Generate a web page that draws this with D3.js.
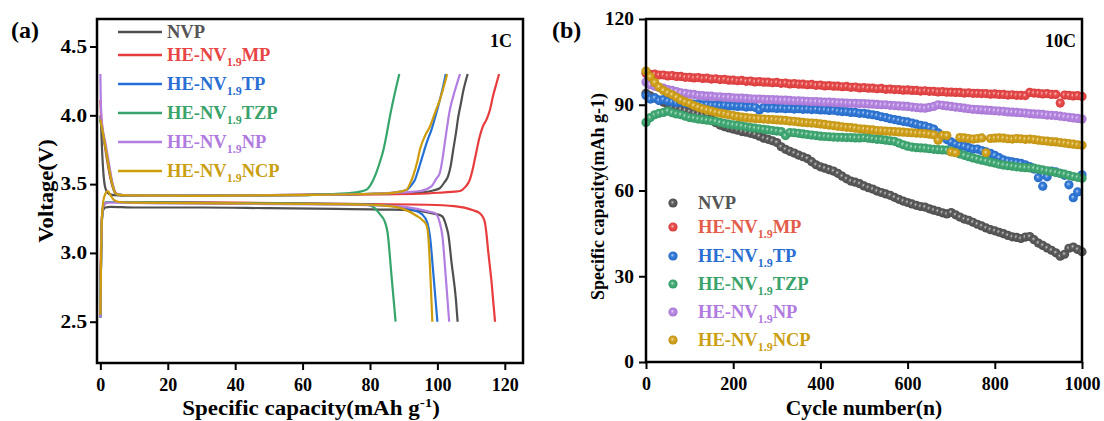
<!DOCTYPE html>
<html><head><meta charset="utf-8">
<script src="https://cdn.jsdelivr.net/npm/d3@7"></script>
<style>
body{margin:0;background:#fff}
svg{display:block}
text{font-family:"Liberation Serif","Times New Roman",serif;font-weight:bold}
</style>
</head><body>
<svg id="chart" width="1104" height="421"></svg>
<script>
// ---------- categories / legend ----------
const seriesKeys = ["NVP","MP","TP","TZP","NP","NCP"];
const legendPrefix = ["NVP","HE-NV","HE-NV","HE-NV","HE-NV","HE-NV"];
const legendSub = ["","1.9","1.9","1.9","1.9","1.9"];
const legendSuffix = ["","MP","TP","TZP","NP","NCP"];
const lineColors = ["#4f4f4f","#e83c3c","#2370d6","#35a56b","#b27ee2","#cf9c0c"];
const legendTextColors = ["#555555","#e84545","#2a6fd2","#3aa36a","#b07ce0","#caa012"];
const legendTextColorsB = ["#555555","#e35d4a","#2a6fd2","#3aa36a","#b07ce0","#caa012"];

// ---------- panel (a): voltage profiles [capacity, voltage] ----------
const nvpCharge = [[0,4.00],[0.2,3.93],[0.5,3.75],[0.9,3.58],[1.5,3.47],[2.5,3.43],[4,3.42],[10,3.415],[30,3.415],[50,3.42],[70,3.425],[85,3.43],[92,3.435],[96,3.44],[99,3.455],[100.7,3.47],[102,3.51],[103.2,3.56],[104,3.64],[104.7,3.75],[105.5,3.87],[106.2,3.99],[107,4.09],[107.7,4.18],[108.4,4.25],[109,4.3]];
const nvpDischarge = [[0,2.53],[0.15,2.85],[0.3,3.1],[0.5,3.25],[0.8,3.31],[1.5,3.33],[3,3.335],[10,3.33],[30,3.33],[50,3.325],[70,3.32],[85,3.315],[92,3.31],[96,3.30],[99,3.285],[101.2,3.27],[102.2,3.23],[102.8,3.18],[103.2,3.14],[104.2,2.93],[105.5,2.66],[106,2.5]];
const mpCharge = [[0,4.11],[0.2,4.0],[0.6,3.9],[1.5,3.75],[2.5,3.6],[3.5,3.49],[4.5,3.43],[6,3.42],[20,3.415],[50,3.42],[80,3.425],[95,3.43],[102,3.44],[105,3.445],[106.7,3.45],[108.3,3.48],[109.6,3.53],[110.4,3.6],[111.1,3.68],[112.6,3.85],[113.5,3.92],[114.6,3.97],[115.6,4.04],[116.5,4.14],[117.5,4.23],[118.3,4.3]];
const mpDischarge = [[0,2.8],[0.2,3.05],[0.45,3.25],[0.8,3.33],[1.5,3.36],[3,3.37],[10,3.37],[40,3.365],[80,3.355],[97,3.35],[105,3.34],[110.6,3.31],[112.5,3.29],[113.5,3.26],[114.1,3.22],[114.6,3.13],[115,3.03],[116.1,2.78],[117.1,2.5]];
const tpCharge = [[0,3.97],[1,3.84],[2,3.7],[3,3.56],[4,3.46],[5,3.425],[8,3.418],[30,3.415],[60,3.42],[80,3.43],[86,3.435],[89,3.445],[91,3.46],[92.5,3.5],[93.3,3.53],[94.3,3.6],[95.3,3.68],[96.8,3.8],[98.3,3.9],[99.5,4.0],[100.7,4.11],[101.7,4.21],[102.5,4.3]];
const tpDischarge = [[0,2.53],[0.15,2.85],[0.35,3.15],[0.6,3.3],[1,3.35],[2,3.37],[4,3.37],[20,3.365],[50,3.36],[75,3.355],[85,3.345],[90,3.33],[93,3.31],[95.5,3.28],[97,3.22],[97.8,3.12],[98.8,2.85],[100,2.5]];
const tzpCharge = [[0,3.97],[1,3.84],[2,3.7],[3,3.56],[4,3.46],[5,3.425],[8,3.418],[30,3.415],[60,3.42],[70,3.43],[74,3.435],[77,3.445],[79,3.46],[80.3,3.5],[81.5,3.56],[82.8,3.65],[84,3.75],[85,3.87],[85.9,3.99],[87,4.12],[88.7,4.3]];
const tzpDischarge = [[0,2.53],[0.15,2.85],[0.35,3.15],[0.6,3.3],[1,3.35],[2,3.37],[4,3.37],[20,3.365],[50,3.36],[70,3.355],[78,3.35],[80,3.345],[82,3.31],[83,3.28],[84.5,3.22],[85.2,3.15],[86.4,2.83],[87.6,2.5]];
const npCharge = [[0,4.3],[0.1,4.15],[0.25,4.02],[0.6,3.92],[1.5,3.8],[2.5,3.66],[3.5,3.52],[4.5,3.44],[5.5,3.425],[8,3.418],[30,3.415],[60,3.42],[80,3.43],[90,3.44],[95,3.45],[98.3,3.485],[99.7,3.54],[100.7,3.58],[101.5,3.68],[102.2,3.8],[103.7,4.04],[105.2,4.18],[106.7,4.3]];
const npDischarge = [[0,2.53],[0.15,2.85],[0.35,3.15],[0.6,3.3],[1,3.35],[2,3.365],[4,3.365],[20,3.36],[50,3.355],[75,3.35],[88,3.34],[94,3.32],[97.5,3.30],[99.3,3.29],[100.7,3.22],[101.5,3.12],[102.5,2.82],[103.5,2.5]];
const ncpCharge = [[0,3.97],[1,3.84],[2,3.7],[3,3.56],[4,3.46],[5,3.425],[8,3.418],[30,3.415],[60,3.42],[80,3.43],[86,3.435],[89,3.445],[90.9,3.46],[92,3.51],[92.8,3.56],[94,3.66],[94.8,3.75],[96.3,3.85],[97.8,3.92],[99.3,4.02],[100.7,4.11],[101.8,4.2],[102.9,4.3]];
const ncpDischarge = [[0,2.55],[0.2,2.95],[0.45,3.25],[0.9,3.38],[1.5,3.43],[2.2,3.45],[3,3.42],[4,3.385],[5.5,3.37],[10,3.365],[40,3.36],[70,3.355],[80,3.35],[86,3.34],[89.8,3.32],[93.8,3.27],[95.5,3.24],[96.8,3.2],[97.3,3.12],[97.9,2.85],[98.5,2.5]];

const xTicksA = [0,20,40,60,80,100,120];
const yTicksA = [2.5,3.0,3.5,4.0,4.5];

// ---------- panel (b): capacity every 10 cycles (0..1000) ----------
const cycleStep = 10;
const capNVP = [94.0,93.1,92.4,91.6,90.9,90.1,89.3,88.9,88.4,88.0,
87.6,87.1,86.7,86.4,86.4,85.1,83.7,82.9,82.3,81.9,
81.5,81.1,80.6,80.4,80.0,79.6,79.0,78.3,77.9,77.4,
76.8,75.3,74.4,73.7,73.1,72.4,71.8,71.2,70.1,69.0,
68.3,67.8,67.3,66.8,66.0,65.0,64.1,63.3,62.9,62.4,
61.6,61.0,60.5,59.8,59.3,58.8,58.3,57.6,56.9,56.3,
55.8,55.3,54.8,54.4,54.2,53.6,53.1,52.7,52.2,51.8,
52.3,51.5,50.7,50.0,49.6,48.9,48.2,47.6,46.9,46.3,
45.9,45.4,44.9,44.3,43.8,43.6,43.2,43.7,43.9,42.8,
41.6,40.8,39.9,39.1,38.2,37.0,37.7,39.8,40.2,39.4,
38.6];
const capMP = [101.0,100.6,100.7,100.4,100.4,100.1,100.2,99.9,99.9,99.6,
99.6,99.4,99.5,99.2,99.3,99.0,99.1,98.8,98.9,98.6,
98.6,98.4,98.5,98.2,98.3,98.0,98.1,97.9,97.9,97.7,
97.8,97.5,97.6,97.3,97.4,97.2,97.2,97.0,97.1,96.8,
96.9,96.6,96.7,96.5,96.5,96.3,96.4,96.1,96.2,95.9,
96.0,95.8,95.8,95.6,95.7,95.4,95.5,95.3,95.3,95.1,
95.2,95.0,95.0,94.8,94.9,94.7,94.7,94.5,94.6,94.4,
94.4,94.3,94.3,94.1,94.2,94.0,94.0,93.9,93.9,93.7,
93.8,93.6,93.6,93.4,93.5,93.3,93.3,93.2,94.3,94.1,
94.0,93.8,93.9,93.6,93.6,90.6,93.4,93.3,93.1,93.2,
92.9];
const capTP = [93.2,92.0,92.4,91.5,91.8,91.3,91.0,90.7,90.9,90.5,
90.4,90.2,90.3,90.0,90.1,89.9,89.9,89.7,89.8,89.6,
89.6,89.4,89.5,89.2,89.3,89.1,88.2,89.0,88.8,88.9,
88.7,88.8,88.6,88.7,88.5,88.6,88.4,88.5,88.3,88.4,
88.2,88.2,88.0,88.1,87.8,87.6,87.6,87.3,87.3,87.0,
87.0,86.7,86.5,86.2,85.8,85.5,85.1,84.8,84.5,84.2,
84.0,83.6,83.2,82.8,82.5,82.0,81.5,80.2,79.0,77.8,
77.0,76.3,75.8,75.5,75.0,74.5,74.5,74.0,73.5,73.0,
72.3,71.5,70.7,70.3,70.0,69.8,69.5,69.0,68.4,67.5,
64.5,61.5,64.8,66.8,66.5,66.0,65.3,62.0,57.5,59.5,
65.5];
const capTZP = [83.8,85.5,86.5,87.0,87.3,87.8,87.2,86.8,86.5,86.0,
85.5,85.3,85.0,84.8,84.6,84.4,84.2,83.8,83.5,83.2,
83.0,82.8,82.6,82.3,82.0,81.8,81.6,81.4,81.2,81.0,
80.8,80.6,79.2,80.3,80.2,80.0,79.8,79.6,79.4,79.2,
79.0,78.9,78.8,78.7,78.6,78.6,78.5,78.5,78.4,78.4,
78.5,78.3,78.1,77.9,77.8,77.6,77.4,77.2,76.6,76.0,
75.5,75.2,75.0,74.9,74.8,74.6,74.4,74.3,74.2,74.1,
73.9,73.3,72.8,72.3,71.8,71.4,71.0,70.6,70.3,69.9,
69.6,69.2,68.9,68.7,68.5,68.3,68.1,68.0,67.9,67.8,
67.5,67.2,66.9,66.6,66.3,66.0,65.7,65.3,64.9,64.6,
64.3];
const capNP = [98.0,97.0,96.5,96.0,95.8,95.3,95.0,94.6,94.2,94.0,
93.7,93.6,93.3,93.2,93.0,93.0,92.8,92.8,92.6,92.6,
92.4,92.3,92.3,92.2,92.1,92.0,92.0,91.9,91.8,91.8,
91.7,91.6,91.6,91.5,91.4,91.4,91.3,91.2,91.1,91.1,
91.0,90.9,90.9,90.8,90.7,90.7,90.6,90.5,90.5,90.4,
90.4,90.3,90.2,90.1,90.0,90.0,89.8,89.7,89.6,89.5,
89.4,89.2,89.0,88.9,88.8,89.1,89.4,90.0,89.8,89.6,
89.4,89.2,89.0,88.8,88.6,88.4,88.3,88.2,88.1,88.0,
87.9,87.8,87.7,87.5,87.4,87.3,87.2,87.1,86.9,86.8,
86.7,86.6,86.4,86.3,86.2,86.0,85.8,85.6,85.4,85.2,
85.0];
const capNCP = [101.8,99.8,97.8,96.2,95.0,94.2,93.5,92.6,91.7,91.0,
90.5,89.7,89.1,88.6,88.2,87.8,87.4,87.1,86.8,86.5,
86.2,85.9,85.7,85.5,85.3,85.2,85.1,85.0,84.9,84.8,
84.7,84.6,84.5,84.3,84.2,84.0,83.8,83.7,83.6,83.5,
83.3,83.1,82.9,82.7,82.5,82.3,82.1,82.0,81.8,81.6,
81.5,81.3,81.2,81.0,80.9,80.8,80.7,80.6,80.5,80.4,
80.3,80.2,80.1,80.0,79.9,79.7,79.5,77.6,79.3,79.2,
73.5,73.2,78.5,78.4,78.2,78.0,78.2,78.4,73.2,78.2,
78.3,78.4,78.3,78.1,78.0,78.2,78.1,77.9,78.0,77.8,
77.6,77.4,77.3,77.1,77.0,76.8,76.6,76.4,76.2,76.0,
75.8];
const xTicksB = [0,200,400,600,800,1000];
const yTicksB = [0,30,60,90,120];

// ---------- drawing ----------
const svg = d3.select("#chart");
const chargeSets = [nvpCharge, mpCharge, tpCharge, tzpCharge, npCharge, ncpCharge];
const dischargeSets = [nvpDischarge, mpDischarge, tpDischarge, tzpDischarge, npDischarge, ncpDischarge];
const capSets = [capNVP, capMP, capTP, capTZP, capNP, capNCP];

const A = {l:97, r:523, t:19, b:363};
const B = {l:646, r:1082, t:19, b:362};

const xA = d3.scaleLinear().domain([-1, 125.4]).range([A.l, A.r]);
const yA = d3.scaleLinear().domain([2.2, 4.7]).range([A.b, A.t]);
const xB = d3.scaleLinear().domain([0, 1000]).range([B.l, B.r]);
const yB = d3.scaleLinear().domain([0, 120]).range([B.b, B.t]);

// gradients for sphere markers
const defs = svg.append("defs");
lineColors.forEach((c, i) => {
  const g = defs.append("radialGradient").attr("id", "sph" + i)
    .attr("cx", "50%").attr("cy", "50%").attr("r", "55%").attr("fx", "42%").attr("fy", "40%");
  g.append("stop").attr("offset", "0%").attr("stop-color", d3.interpolateRgb(c, "#ffffff")(0.7));
  g.append("stop").attr("offset", "35%").attr("stop-color", d3.interpolateRgb(c, "#ffffff")(0.1));
  g.append("stop").attr("offset", "100%").attr("stop-color", d3.color(c).darker(0.25));
});

function axes(x, y, P, xt, yt, xMinor, yMinor, fmtY, padY, yLabelScale) {
  const gx = svg.append("g").attr("transform", `translate(0,${P.b})`);
  gx.call(d3.axisBottom(x).tickValues(xMinor).tickSize(4).tickFormat(""));
  gx.call(d3.axisBottom(x).tickValues(xt).tickSize(7).tickPadding(8).tickFormat(d3.format("d")));
  const gy = svg.append("g").attr("transform", `translate(${P.l},0)`);
  if (yMinor.length) gy.call(d3.axisLeft(y).tickValues(yMinor).tickSize(4).tickFormat(""));
  gy.call(d3.axisLeft(y).tickValues(yt).tickSize(7).tickPadding(padY).tickFormat(fmtY));
  [gx, gy].forEach(g => {
    g.selectAll(".domain").remove();
    g.selectAll(".tick line").attr("stroke", "#000").attr("stroke-width", 2);
    g.selectAll(".tick text").attr("font-size", 18).attr("fill", "#000")
      .attr("font-family", "'Liberation Serif',serif").attr("font-weight", "bold");
  });
  if (yLabelScale !== 1) {
    gy.selectAll(".tick text").each(function() {
      const t = d3.select(this);
      const w = this.getComputedTextLength();
      t.attr("textLength", w * yLabelScale).attr("lengthAdjust", "spacingAndGlyphs");
    });
  }
}

// helper: horizontally stretched text
function stretchedText(x, y, rot, sx, size, anchor) {
  const g = svg.append("g").attr("transform", `translate(${x},${y}) rotate(${rot}) scale(${sx},1)`);
  return g.append("text").attr("x", 0).attr("y", 0).attr("text-anchor", anchor).attr("font-size", size);
}

// ===== Panel A =====
const lineA = d3.line().x(d => xA(d[0])).y(d => yA(d[1])).curve(d3.curveMonotoneX);
const gA = svg.append("g");
seriesKeys.forEach((k, i) => {
  gA.append("path").datum(chargeSets[i]).attr("d", lineA)
    .attr("fill", "none").attr("stroke", lineColors[i]).attr("stroke-width", 2.2);
  gA.append("path").datum(dischargeSets[i]).attr("d", lineA)
    .attr("fill", "none").attr("stroke", lineColors[i]).attr("stroke-width", 2.2);
});
axes(xA, yA, A, xTicksA, yTicksA, [10,30,50,70,90,110], [], d3.format(".1f"), 3, 1.18);
svg.append("rect").attr("x", A.l).attr("y", A.t).attr("width", A.r - A.l).attr("height", A.b - A.t)
  .attr("fill", "none").attr("stroke", "#000").attr("stroke-width", 2.5);

// legend A
const legRowsA = [32, 55, 84, 113, 142, 171];
seriesKeys.forEach((k, i) => {
  const y = legRowsA[i];
  svg.append("line").attr("x1", 118).attr("x2", 162).attr("y1", y).attr("y2", y)
    .attr("stroke", lineColors[i]).attr("stroke-width", 2.5);
  const t = svg.append("text").attr("x", 167).attr("y", y + 6).attr("font-size", 18.5)
    .attr("fill", legendTextColors[i]);
  t.append("tspan").text(legendPrefix[i]);
  if (legendSub[i]) {
    t.append("tspan").attr("font-size", 12).attr("dy", 5).text(legendSub[i]);
    t.append("tspan").attr("dy", -5).text(legendSuffix[i]);
  }
});
svg.append("text").attr("x", 512).attr("y", 47).attr("text-anchor", "end").attr("font-size", 18).text("1C");
svg.append("text").attr("x", 11).attr("y", 38).attr("font-size", 24).text("(a)");
// axis titles A
const xtA = stretchedText(311, 415, 0, 1.15, 20, "middle");
xtA.append("tspan").text("Specific capacity(mAh g");
xtA.append("tspan").attr("font-size", 13).attr("dy", -8).text("-1");
xtA.append("tspan").attr("dy", 8).text(")");
stretchedText(53, (A.t + A.b) / 2, -90, 1.13, 20, "middle").text("Voltage(V)");

// ===== Panel B =====
const gB = svg.append("g");
seriesKeys.forEach((k, i) => {
  gB.append("g").selectAll("circle").data(capSets[i]).join("circle")
    .attr("cx", (d, j) => xB(j * cycleStep)).attr("cy", d => yB(d)).attr("r", 4.6)
    .attr("fill", `url(#sph${i})`);
});
axes(xB, yB, B, xTicksB, yTicksB, [100,300,500,700,900], [15,45,75,105], d3.format("d"), 5, 1.08);
svg.append("rect").attr("x", B.l).attr("y", B.t).attr("width", B.r - B.l).attr("height", B.b - B.t)
  .attr("fill", "none").attr("stroke", "#000").attr("stroke-width", 2.5);

const legRowsB = [203, 227, 256, 284, 312, 340];
seriesKeys.forEach((k, i) => {
  const y = legRowsB[i];
  svg.append("circle").attr("cx", 673).attr("cy", y).attr("r", 4.6).attr("fill", `url(#sph${i})`);
  const t = svg.append("text").attr("x", 698).attr("y", y + 6).attr("font-size", 18.5)
    .attr("fill", legendTextColorsB[i]);
  t.append("tspan").text(legendPrefix[i]);
  if (legendSub[i]) {
    t.append("tspan").attr("font-size", 12).attr("dy", 5).text(legendSub[i]);
    t.append("tspan").attr("dy", -5).text(legendSuffix[i]);
  }
});
svg.append("text").attr("x", 1076).attr("y", 47).attr("text-anchor", "end").attr("font-size", 18).text("10C");
svg.append("text").attr("x", 552).attr("y", 38).attr("font-size", 24).text("(b)");
stretchedText((B.l + B.r) / 2, 415, 0, 1.08, 20, "middle").text("Cycle number(n)");
svg.append("text").attr("transform", `translate(604,${(B.t + B.b) / 2 + 6}) rotate(-90)`)
  .attr("text-anchor", "middle").attr("font-size", 18).text("Specific capacity(mAh g-1)");
</script>
</body></html>
